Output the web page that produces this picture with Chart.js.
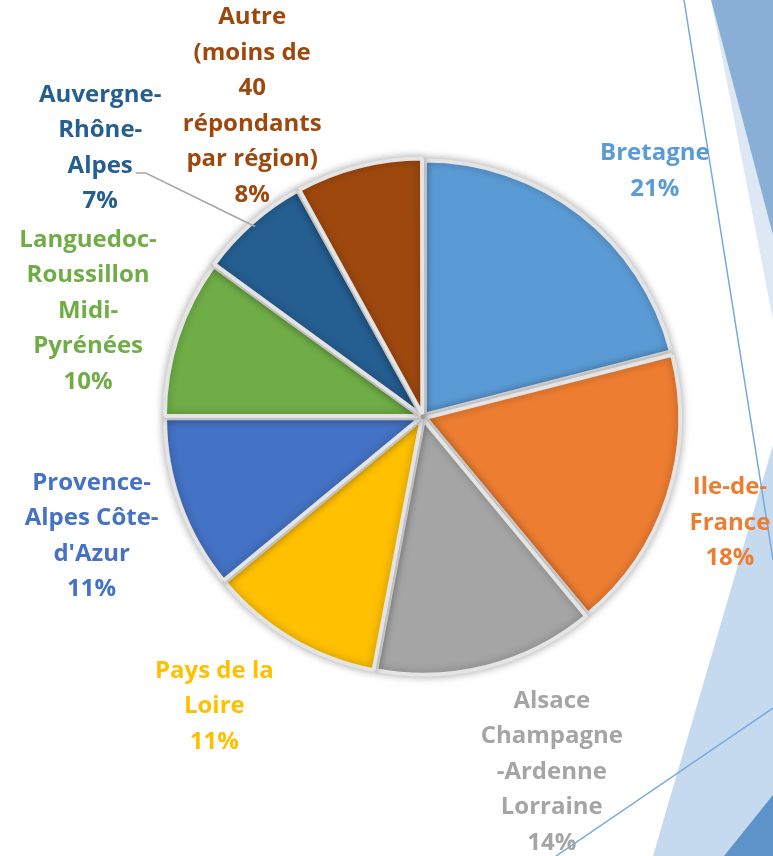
<!DOCTYPE html>
<html><head><meta charset="utf-8">
<script src="https://cdn.jsdelivr.net/npm/chart.js@4/dist/chart.umd.min.js"></script>
<style>html,body{margin:0;padding:0;background:#fff;overflow:hidden}</style>
</head><body>
<canvas id="c" width="773" height="856"></canvas>
<script>
// ---- data ----
const categories = ["Bretagne", "Ile-de-France", "Alsace Champagne-Ardenne Lorraine", "Pays de la Loire",
  "Provence-Alpes Côte-d'Azur", "Languedoc-Roussillon Midi-Pyrénées", "Auvergne-Rhône-Alpes",
  "Autre (moins de 40 répondants par région)"];
const values = [21, 18, 14, 11, 11, 10, 7, 8];
const labelLines = [
  ["Bretagne"], ["Ile-de-", "France"], ["Alsace", "Champagne", "-Ardenne", "Lorraine"], ["Pays de la", "Loire"],
  ["Provence-", "Alpes Côte-", "d'Azur"], ["Languedoc-", "Roussillon", "Midi-", "Pyrénées"],
  ["Auvergne-", "Rhône-", "Alpes"], ["Autre", "(moins de", "40", "répondants", "par région)"]
];

// ---- style ----
const colors = ["#5b9bd5", "#ed7d31", "#a5a5a5", "#ffc000", "#4472c4", "#70ad47", "#255e91", "#9e480e"];
const labelNudge = [[18, 30], [-25, -2], [42, 17], [-31, -11], [-3, 1], [-3, 2], [-92, -7], [-84, 27]];
const labelLeader = [false, false, false, false, false, false, true, false];
const FONT = "bold 24px 'Open Sans', sans-serif";
const LH = 35.5;

function poly(ctx, color, pts) {
  ctx.beginPath(); ctx.moveTo(pts[0][0], pts[0][1]);
  for (let i = 1; i < pts.length; i++) ctx.lineTo(pts[i][0], pts[i][1]);
  ctx.closePath(); ctx.fillStyle = color; ctx.fill();
}
function line(ctx, color, a, b, w) {
  ctx.beginPath(); ctx.moveTo(a[0], a[1]); ctx.lineTo(b[0], b[1]);
  ctx.strokeStyle = color; ctx.lineWidth = w; ctx.stroke();
}

const decor = {
  id: 'decor',
  beforeDraw(chart) {
    const ctx = chart.ctx, W = chart.width, H = chart.height;
    ctx.save();
    ctx.fillStyle = '#ffffff'; ctx.fillRect(0, 0, W, H);
    poly(ctx, '#dde8f4', [[W - 62, 0], [W, 320], [W, 230]]);
    poly(ctx, '#8aafd6', [[W - 62, 0], [W, 0], [W, 235]]);
    poly(ctx, '#c6daef', [[W, 445], [W - 120, H], [W, H]]);
    poly(ctx, '#5e93c9', [[W, H - 61], [W - 49, H], [W, H]]);
    line(ctx, '#74a9dd', [W - 89, 0], [W, 560], 1.5);
    line(ctx, '#74a9dd', [W - 217, H], [W, 708], 1.5);
    ctx.restore();
  }
};

const shadow = {
  id: 'shadow',
  beforeDatasetsDraw(chart) {
    const ctx = chart.ctx; ctx.save();
    ctx.shadowColor = 'rgba(0,0,0,0.3)'; ctx.shadowBlur = 8;
  },
  afterDatasetsDraw(chart) { chart.ctx.restore(); }
};

const labels = {
  id: 'labels',
  afterDraw(chart) {
    const ctx = chart.ctx;
    const meta = chart.getDatasetMeta(0);
    ctx.save();
    ctx.font = FONT; ctx.textAlign = 'center'; ctx.textBaseline = 'middle';
    meta.data.forEach((arc, i) => {
      const p = arc.getProps(['x', 'y', 'startAngle', 'endAngle', 'outerRadius'], true);
      const mid = (p.startAngle + p.endAngle) / 2;
      const d = p.outerRadius + 95;
      const cx = p.x + d * Math.cos(mid) + labelNudge[i][0];
      const cy = p.y + d * Math.sin(mid) + labelNudge[i][1];
      const lines = labelLines[i].concat([values[i] + '%']);
      const top = cy - (lines.length - 1) * LH / 2;
      ctx.fillStyle = colors[i];
      lines.forEach((t, k) => ctx.fillText(t, cx, top + k * LH));
      if (labelLeader[i]) {
        const k = labelLines[i].length - 1;
        const tw = ctx.measureText(labelLines[i][k]).width;
        const sx = cx + tw / 2 + 3, sy = top + k * LH + 7;
        const ex = p.x + p.outerRadius * Math.cos(mid), ey = p.y + p.outerRadius * Math.sin(mid);
        ctx.beginPath(); ctx.moveTo(sx, sy); ctx.lineTo(sx + 10, sy); ctx.lineTo(ex, ey);
        ctx.strokeStyle = '#a6a6a6'; ctx.lineWidth = 1.5; ctx.stroke();
      }
    });
    ctx.restore();
  }
};

new Chart(document.getElementById('c'), {
  type: 'pie',
  data: {
    labels: categories,
    datasets: [{
      data: values,
      backgroundColor: colors,
      borderColor: '#e4e4e4',
      borderWidth: 4,
      offset: 12
    }]
  },
  options: {
    responsive: false,
    animation: false,
    radius: 254,
    layout: { padding: { left: 73, right: 0, top: 0, bottom: 22 } },
    plugins: { legend: { display: false }, tooltip: { enabled: false } }
  },
  plugins: [decor, shadow, labels]
});
</script>
</body></html>
